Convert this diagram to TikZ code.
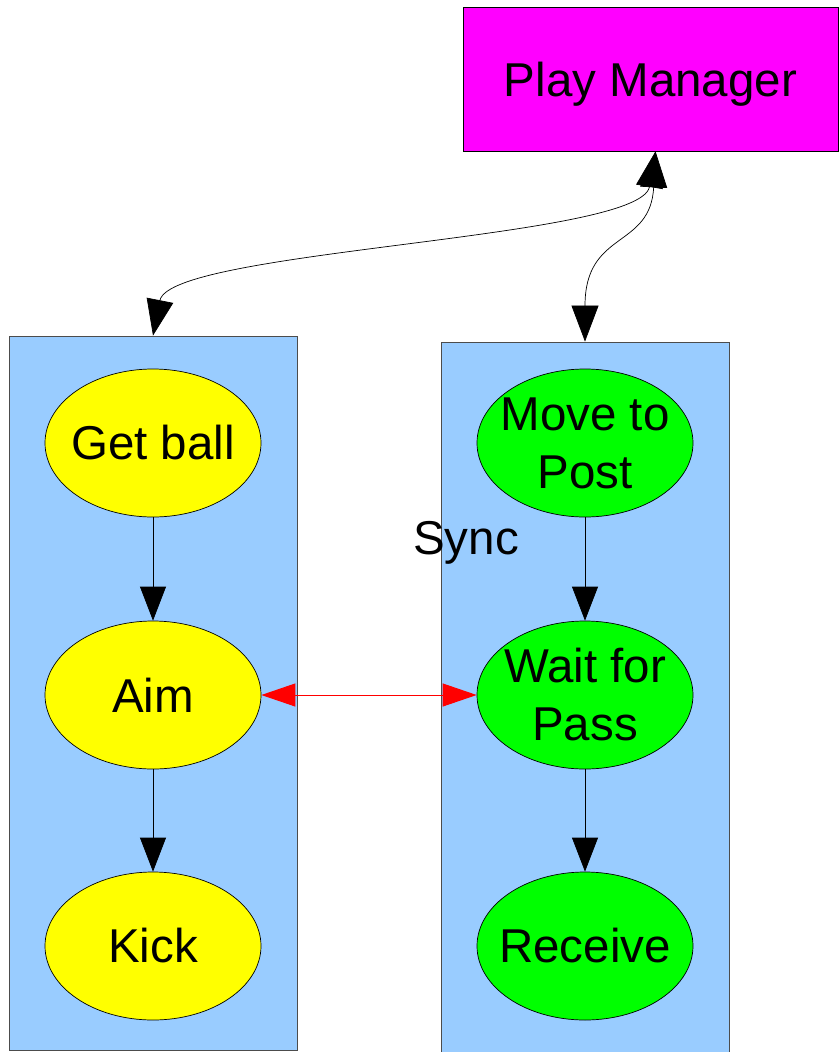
\documentclass[tikz,border=0pt]{standalone}
\usepackage{fontspec}
\setmainfont{Liberation Sans}
\usetikzlibrary{arrows.meta,shapes.geometric}
\definecolor{lanefill}{HTML}{99CCFF}
\definecolor{stategreen}{HTML}{00FF00}
\definecolor{stateyellow}{HTML}{FFFF00}
\definecolor{pmfill}{HTML}{FF00FF}
\definecolor{syncred}{HTML}{FF0000}

\begin{document}
\begin{tikzpicture}[x=1pt,y=-1pt,
  font=\fontsize{47.5}{58}\selectfont,
  lane/.style={draw=black!70,fill=lanefill,line width=.8pt,minimum width=288pt,inner sep=0pt},
  state/.style={ellipse,draw,line width=.7pt,minimum width=216pt,minimum height=148pt,inner sep=-14pt,align=center},
  flow/.style={draw,line width=.7pt,-{Triangle[length=34pt,width=26pt]}},
  link/.style={draw,line width=.7pt,{Triangle[length=36pt,width=27pt]}-{Triangle[length=36pt,width=27pt]}},
  syncline/.style={draw,color=syncred,line width=1pt,{Triangle[length=34pt,width=23pt]}-{Triangle[length=34pt,width=23pt]}}]
  \useasboundingbox (0,0) rectangle (838,1052);

  \node[draw,fill=pmfill,line width=.7pt,minimum width=375pt,minimum height=144pt,inner sep=0pt,text depth=0pt] (pm) at (650.5,79) {Play Manager};

  % the two lanes
  \node[lane,minimum height=714pt] (kicker) at (153,693) {};
  \node[lane,minimum height=724pt] (receiver) at (585,704) {};

  \node[state,fill=stateyellow] (getball) at (153,443) {Get ball};
  \node[state,fill=stateyellow] (aim) at (153,695) {Aim};
  \node[state,fill=stateyellow] (kick) at (153,946) {Kick};

  \node[state,fill=stategreen] (moveto) at (585,443) {Move to\\Post};
  \node[state,fill=stategreen] (waitfor) at (585,695) {Wait for\\Pass};
  \node[state,fill=stategreen] (receive) at (585,946) {Receive};

  \node[inner sep=0pt,text depth=0pt] (synclabel) at (466,538) {Sync};

  \path[flow] (getball) -- (aim);
  \path[flow] (aim) -- (kick);
  \path[flow] (moveto) -- (waitfor);
  \path[flow] (waitfor) -- (receive);

  \path[syncline] (aim.east) -- (waitfor.west);

  % links to the manager
  \coordinate (pmtip) at ([xshift=5pt]pm.south);
  \path[link] (pmtip) .. controls +(-15,88) and +(17,-86) .. (kicker.north);
  \path[link] (pmtip) .. controls +(-5,98) and +(0,-112) .. (receiver.north);
\end{tikzpicture}
\end{document}
